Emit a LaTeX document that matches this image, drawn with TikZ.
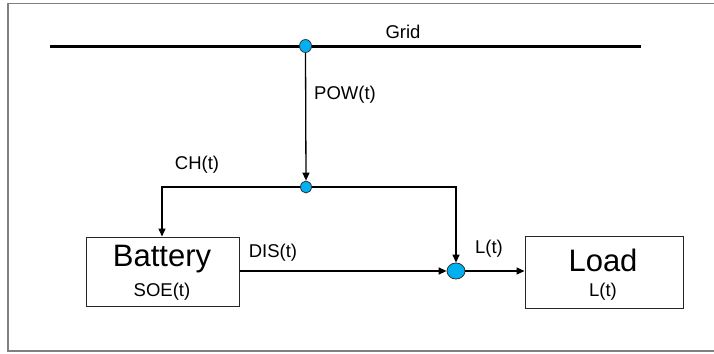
\documentclass[tikz,border=0pt]{standalone}
\usepackage{fontspec}
\setmainfont{Liberation Sans}
\usetikzlibrary{arrows.meta}
\definecolor{dotblue}{RGB}{0,176,240}
\definecolor{framegray}{RGB}{128,128,128}
\tikzset{
  lbl/.style={inner sep=0pt, font=\fontsize{18.5}{22}\selectfont},
  big/.style={inner sep=0pt, font=\fontsize{31}{36}\selectfont},
  box/.style={draw=black!85, line width=1pt, rectangle, inner sep=0pt},
  dot/.style={draw=black!80, fill=dotblue, ellipse, inner sep=0pt, line width=0.8pt},
  flow/.style={draw=black, line width=1.3pt, -{Triangle[length=8pt,width=7pt]}},
  wire/.style={draw=black, line width=1.3pt}
}
\usetikzlibrary{shapes.geometric}
\begin{document}
\begin{tikzpicture}[x=1pt,y=-1pt]
\useasboundingbox (0,0) rectangle (714,353);
\clip (0,0) rectangle (714,353);
\draw[framegray, line width=1.6pt] (8,3.5) rectangle (730,351);
% grid
\coordinate (gl) at (50,46.5);
\coordinate (gr) at (641,46.5);
\draw[line width=3.5pt] (gl) -- (gr);
\node[lbl] (gridt) at (403,32) {Grid};
% nodes
\node[dot, minimum width=12pt, minimum height=13pt] (g) at (305.5,46) {};
\node[dot, minimum width=11pt, minimum height=12pt] (j1) at (306,187) {};
\node[dot, minimum width=18pt, minimum height=16pt] (j2) at (456,271) {};
\node[box, minimum width=153pt, minimum height=69pt] (bat) at (162.5,271.5) {};
\node[box, minimum width=158pt, minimum height=72pt] (load) at (604,272) {};
\node[big] (batt) at (162,259) {Battery};
\node[lbl] (soe) at (162,292) {SOE(t)};
\node[big] (loadt) at (603,260) {Load};
\node[lbl] (lt2) at (603,292) {L(t)};
% labels
\node[lbl] (pow) at (345,95) {POW(t)};
\node[lbl] (ch) at (197,165) {CH(t)};
\node[lbl] (dis) at (273,253) {DIS(t)};
\node[lbl] (lt) at (489,249) {L(t)};
% connectors
\draw[flow] (g.south) -- (j1.north);
\coordinate (cl) at (162,187);
\coordinate (cr) at (456,187);
\draw[flow] (j1.west) -- (cl) -- (bat.north -| cl);
\draw[flow] (j1.east) -- (cr) -- (j2.north);
\draw[flow] (bat.east |- j2) -- (j2.west);
\draw[flow] (j2.east) -- (load.west |- j2);
\end{tikzpicture}
\end{document}
